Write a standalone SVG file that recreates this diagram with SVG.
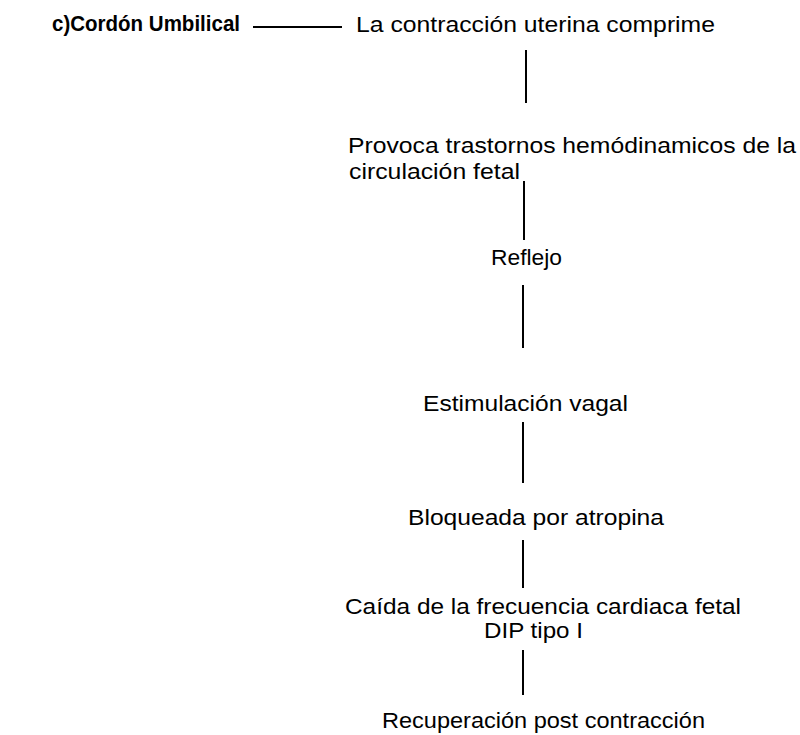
<svg xmlns="http://www.w3.org/2000/svg" width="800" height="735" viewBox="0 0 800 735">
<style>
text{font-family:"Liberation Sans",Arial,sans-serif;font-size:22.5px;fill:#000}
.b{font-weight:bold;font-size:22.5px}
.c line{stroke:#000;stroke-width:2}
</style>
<rect width="800" height="735" fill="#fff"/>
<g id="n0"><text class="b" x="52" y="31" textLength="188" lengthAdjust="spacingAndGlyphs">c)Cordón Umbilical</text></g>
<g id="n1"><text x="356" y="32" textLength="359" lengthAdjust="spacingAndGlyphs">La contracción uterina comprime</text></g>
<g id="n2"><text x="348" y="153" textLength="448" lengthAdjust="spacingAndGlyphs">Provoca trastornos hemódinamicos de la</text><text x="349" y="179" textLength="171" lengthAdjust="spacingAndGlyphs">circulación fetal</text></g>
<g id="n3"><text x="491" y="265" textLength="71" lengthAdjust="spacingAndGlyphs">Reflejo</text></g>
<g id="n4"><text x="423" y="411" textLength="205" lengthAdjust="spacingAndGlyphs">Estimulación vagal</text></g>
<g id="n5"><text x="408" y="525" textLength="256" lengthAdjust="spacingAndGlyphs">Bloqueada por atropina</text></g>
<g id="n6"><text x="345" y="614" textLength="396" lengthAdjust="spacingAndGlyphs">Caída de la frecuencia cardiaca fetal</text><text x="484" y="638" textLength="99" lengthAdjust="spacingAndGlyphs">DIP tipo I</text></g>
<g id="n7"><text x="382" y="728" textLength="323" lengthAdjust="spacingAndGlyphs">Recuperación post contracción</text></g>
<g class="c" id="connectors">
<line x1="253" y1="27" x2="342" y2="27"/>
<line x1="526" y1="50" x2="526" y2="103"/>
<line x1="524" y1="181" x2="524" y2="240"/>
<line x1="523" y1="285" x2="523" y2="348"/>
<line x1="523" y1="422" x2="523" y2="483"/>
<line x1="523" y1="540" x2="523" y2="588"/>
<line x1="523" y1="650" x2="523" y2="695"/>
</g>
</svg>
